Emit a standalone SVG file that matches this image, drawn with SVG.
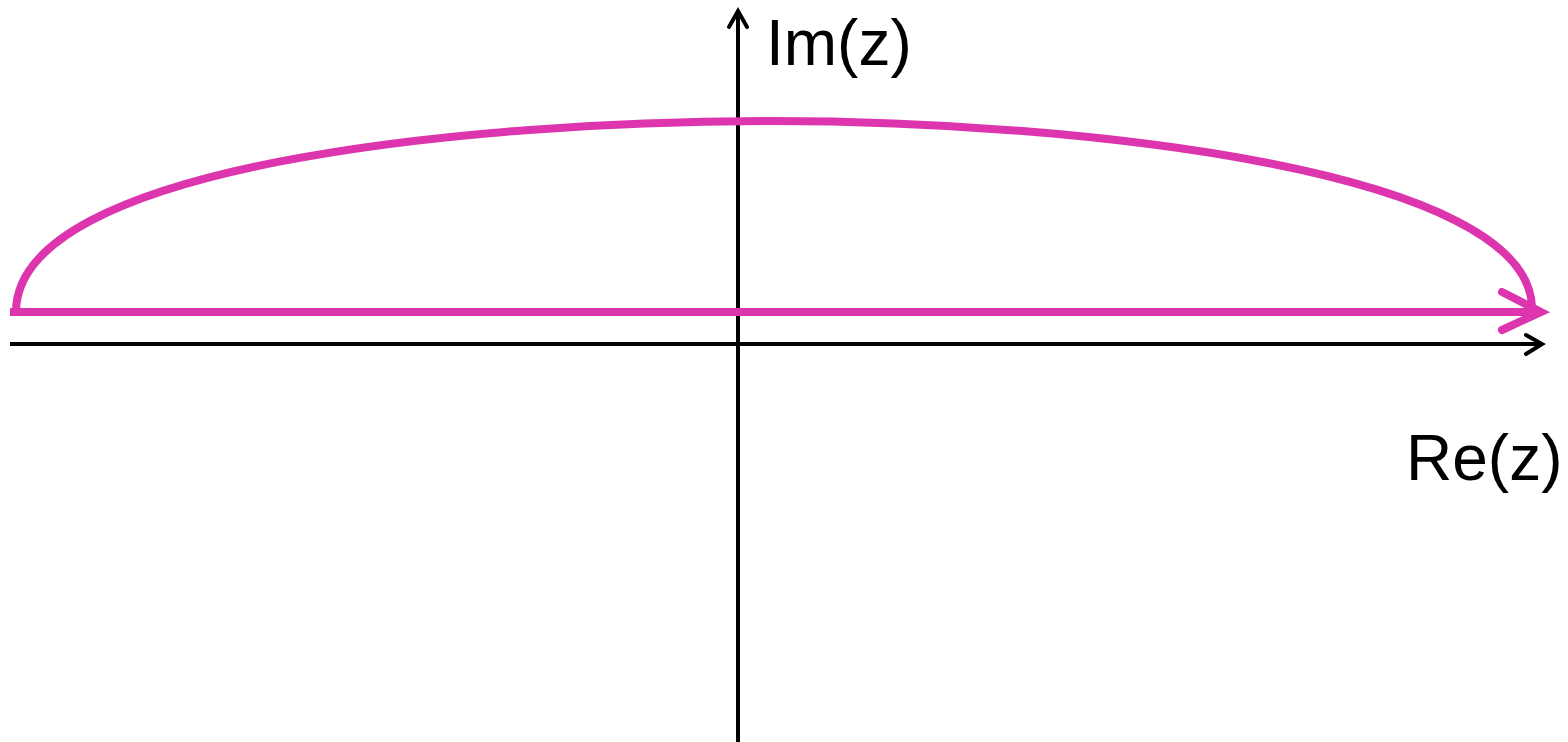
<svg xmlns="http://www.w3.org/2000/svg" width="1568" height="742" viewBox="0 0 1568 742">
<style>
.axis{stroke:#000;stroke-width:4;fill:none}
.contour{stroke:#DD35AD;stroke-width:8;fill:none}
.lbl{font-family:"Liberation Sans",Arial,sans-serif;font-size:64px;fill:#000}
</style>
<rect width="1568" height="742" fill="#fff"/>
<g id="connectors">
<g id="real-axis">
<line class="axis" x1="10" y1="344" x2="1542" y2="344"/>
<polyline class="axis" points="1526,335 1542,344 1526,354" stroke-linecap="round"/>
</g>
<g id="imag-axis">
<line class="axis" x1="738" y1="742" x2="738" y2="11"/>
<polyline class="axis" points="729,27 738,11 747,27" stroke-linecap="round"/>
</g>
<g id="contour">
<line class="contour" x1="10" y1="312" x2="1540" y2="312"/>
<path class="contour" d="M16 312 C16 165 470 121 770 121 C1080 121 1530 170 1532 308"/>
<polyline class="contour" points="1502,292 1541,312 1502,330" stroke-linecap="round" stroke-linejoin="miter"/>
</g>
</g>
<g id="label-im"><text class="lbl" x="766" y="65">Im(z)</text></g>
<g id="label-re"><text class="lbl" x="1406" y="480">Re(z)</text></g>
</svg>
